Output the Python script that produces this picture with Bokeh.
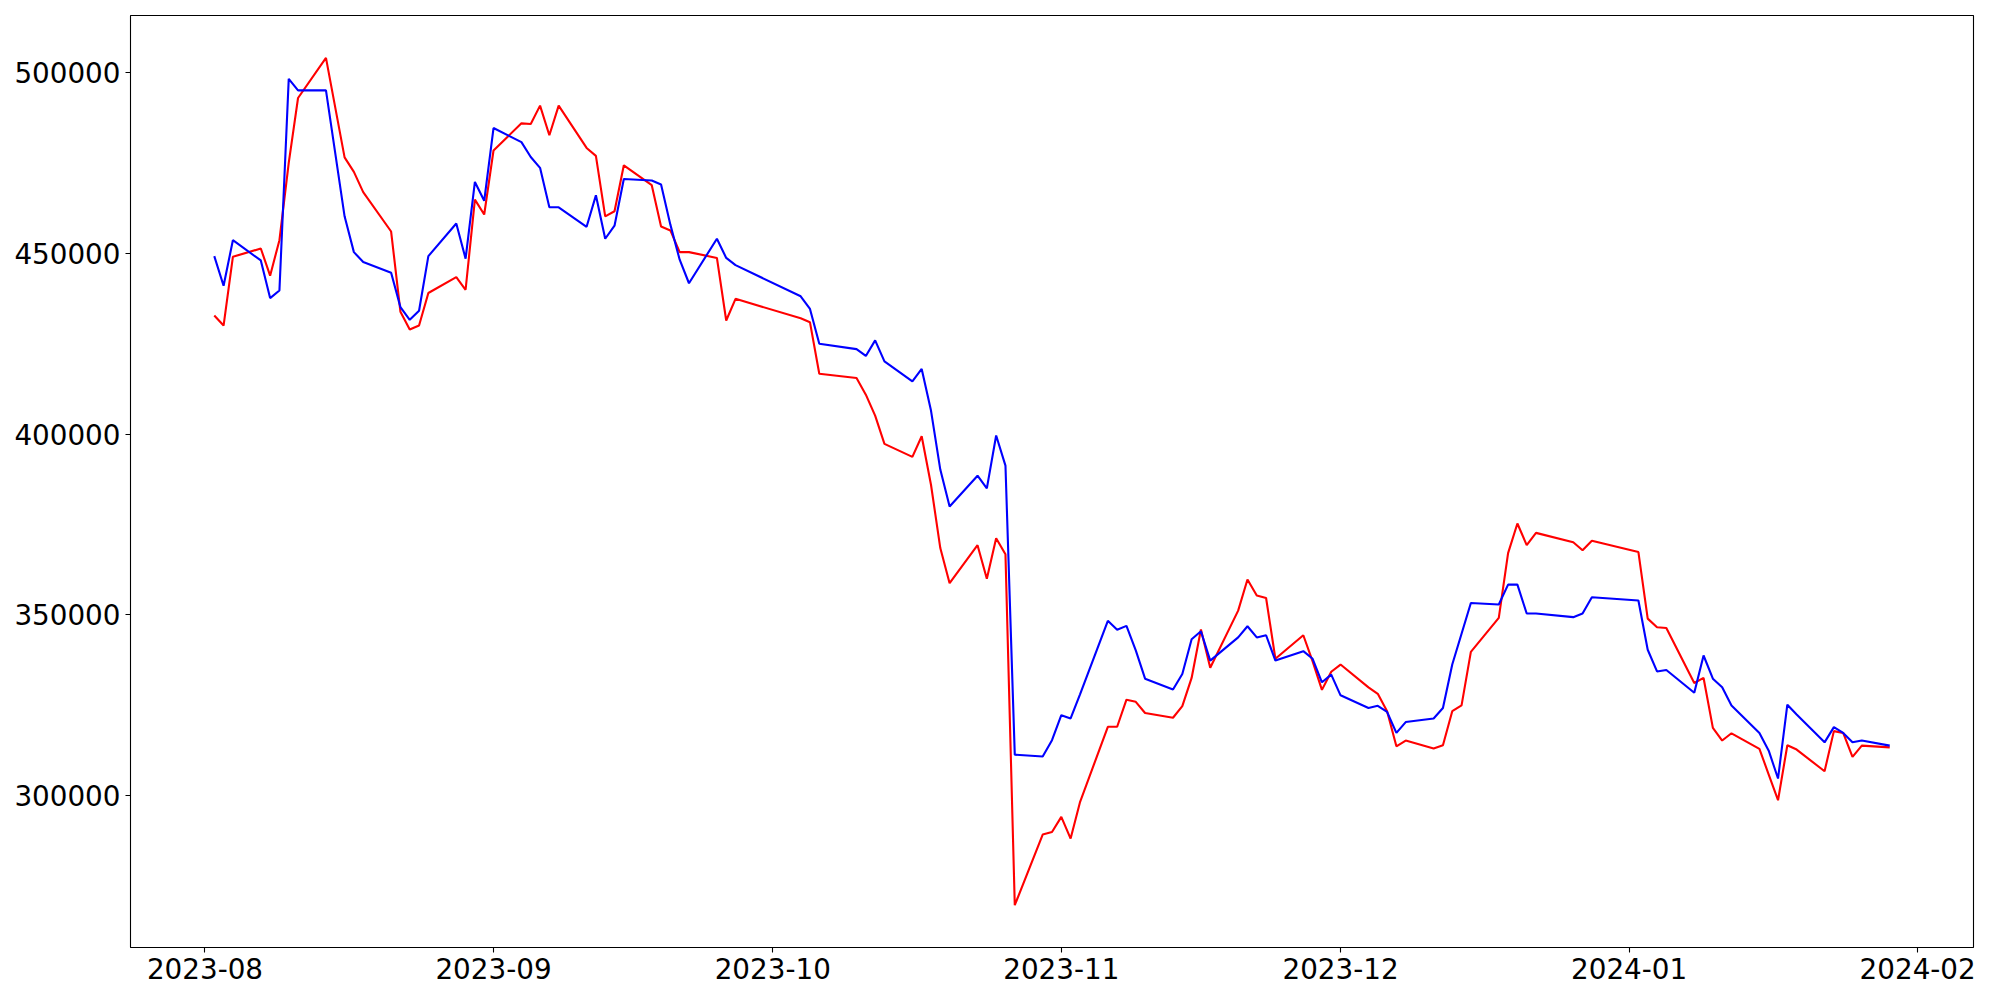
import pandas as pd
from bokeh.plotting import figure
from bokeh.models import Range1d, FixedTicker, DatetimeTickFormatter, NumeralTickFormatter
from bokeh.embed import file_html
from bokeh.resources import INLINE

dates = [
    "2023-08-02", "2023-08-03", "2023-08-04", "2023-08-07", "2023-08-08", "2023-08-09", "2023-08-10",
    "2023-08-11", "2023-08-14", "2023-08-16", "2023-08-17", "2023-08-18", "2023-08-21", "2023-08-22",
    "2023-08-23", "2023-08-24", "2023-08-25", "2023-08-28", "2023-08-29", "2023-08-30", "2023-08-31",
    "2023-09-01", "2023-09-04", "2023-09-05", "2023-09-06", "2023-09-07", "2023-09-08", "2023-09-11",
    "2023-09-12", "2023-09-13", "2023-09-14", "2023-09-15", "2023-09-18", "2023-09-19", "2023-09-20",
    "2023-09-21", "2023-09-22", "2023-09-25", "2023-09-26", "2023-09-27",
    "2023-10-04", "2023-10-05", "2023-10-06", "2023-10-10", "2023-10-11", "2023-10-12", "2023-10-13",
    "2023-10-16", "2023-10-17", "2023-10-18", "2023-10-19", "2023-10-20", "2023-10-23", "2023-10-24",
    "2023-10-25", "2023-10-26", "2023-10-27", "2023-10-30", "2023-10-31",
    "2023-11-01", "2023-11-02", "2023-11-03", "2023-11-06", "2023-11-07", "2023-11-08", "2023-11-09",
    "2023-11-10", "2023-11-13", "2023-11-14", "2023-11-15", "2023-11-16", "2023-11-17", "2023-11-20",
    "2023-11-21", "2023-11-22", "2023-11-23", "2023-11-24", "2023-11-27", "2023-11-28", "2023-11-29",
    "2023-11-30",
    "2023-12-01", "2023-12-04", "2023-12-05", "2023-12-06", "2023-12-07", "2023-12-08", "2023-12-11",
    "2023-12-12", "2023-12-13", "2023-12-14", "2023-12-15", "2023-12-18", "2023-12-19", "2023-12-20",
    "2023-12-21", "2023-12-22", "2023-12-26", "2023-12-27", "2023-12-28",
    "2024-01-02", "2024-01-03", "2024-01-04", "2024-01-05", "2024-01-08", "2024-01-09", "2024-01-10",
    "2024-01-11", "2024-01-12", "2024-01-15", "2024-01-16", "2024-01-17", "2024-01-18", "2024-01-19",
    "2024-01-22", "2024-01-23", "2024-01-24", "2024-01-25", "2024-01-26", "2024-01-29",
]

series_red = [
    432800, 430000, 449000, 451300, 443800, 453600, 475000, 492900, 504000, 476500, 472500, 466900,
    456000, 433800, 428900, 430000, 439000, 443400, 439900, 464800, 460700,
    478400, 485900, 485700, 490800, 482600, 490800, 479100, 476900, 460200, 461600, 474300, 468800,
    457400, 456300, 450300, 450300, 448700, 431400, 437400,
    432000, 430900, 416700, 415500, 410900, 405100, 397300, 393700, 399400, 386000, 368500, 358800,
    369300, 360000, 371200, 366800, 269800, 289300, 290000,
    294200, 288200, 298200, 319100, 319100, 326600, 326000, 322900, 321600, 324800, 332600, 346000,
    335400, 351200, 359800, 355400, 354700, 337900, 344400, 337200, 329300, 334300,
    336300, 330000, 328200, 323400, 313700, 315300, 313100, 314000, 323400, 325000, 339800, 349200,
    367100, 375300, 369300, 372700, 370100, 367900, 370500,
    367400, 349000, 346600, 346400, 331200, 332600, 318800, 315300, 317300, 313000, 305900, 298800,
    314000, 312800, 306800, 317900, 317400, 310800, 313900, 313400,
]

series_blue = [
    449200, 441000, 453600, 448000, 437600, 439700, 498200, 495000, 495000, 460200, 450300, 447600,
    444600, 435100, 431600, 434100, 449200, 458200, 448500, 469700, 464500,
    484600, 480700, 476600, 473600, 462700, 462700, 457300, 466000, 454000, 457600, 470500, 470100,
    469000, 457900, 448200, 441700, 454000, 448700, 446700,
    438100, 434600, 425000, 423500, 421600, 425900, 420100, 414600, 418000, 406500, 390200, 380000,
    388500, 385000, 399600, 391300, 311400, 310900, 315400,
    322300, 321400, 328000, 348400, 345900, 347000, 340200, 332400, 329400, 333700, 343300, 345500,
    337400, 343800, 346900, 343800, 344400, 337400, 340000, 337900, 331400, 333500,
    327800, 324300, 324900, 323200, 317400, 320400, 321400, 324300, 336300, 344800, 353300, 352900,
    358400, 358400, 350400, 350400, 349400, 350400, 354900,
    354000, 340400, 334400, 334800, 328500, 338800, 332400, 330000, 325000, 317400, 312500, 304800,
    325200, 322500, 314800, 319000, 317400, 314800, 315300, 313900,
]

x_tick_labels = ["2023-08-01", "2023-09-01", "2023-10-01", "2023-11-01", "2023-12-01", "2024-01-01", "2024-02-01"]
y_ticks = [300000, 350000, 400000, 450000, 500000]


def to_ms(s):
    return pd.Timestamp(s).timestamp() * 1000.0


x = [to_ms(d) for d in dates]
x_ticks = [to_ms(d) for d in x_tick_labels]

xspan = max(x) - min(x)
all_y = series_red + series_blue
yspan = max(all_y) - min(all_y)

p = figure(
    frame_width=1843, frame_height=932,
    min_border_left=130, min_border_right=19, min_border_top=15, min_border_bottom=45,
    x_axis_type="datetime",
    x_range=Range1d(min(x) - 0.05 * xspan, max(x) + 0.05 * xspan),
    y_range=Range1d(min(all_y) - 0.05 * yspan, max(all_y) + 0.05 * yspan),
    output_backend="svg", toolbar_location=None,
)

p.line(x, series_red, line_color="#ff0000", line_width=2.1)
p.line(x, series_blue, line_color="#0000ff", line_width=2.1)

p.grid.visible = False
p.outline_line_color = "black"
p.outline_line_width = 1.1
p.background_fill_color = "white"
p.border_fill_color = "white"

p.xaxis.ticker = FixedTicker(ticks=x_ticks)
p.xaxis.formatter = DatetimeTickFormatter(months="%Y-%m", days="%Y-%m", years="%Y-%m")
p.yaxis.ticker = FixedTicker(ticks=y_ticks)
p.yaxis.formatter = NumeralTickFormatter(format="0")

for ax in (p.xaxis[0], p.yaxis[0]):
    ax.axis_line_color = None
    ax.major_tick_line_color = "black"
    ax.major_tick_line_width = 1.1
    ax.major_tick_out = 5
    ax.major_tick_in = 0
    ax.minor_tick_line_color = None
    ax.major_label_text_font = "DejaVu Sans"
    ax.major_label_text_font_size = "27.8px"
    ax.major_label_text_color = "black"
    ax.major_label_standoff = 5

open("out.html", "w").write(file_html(p, INLINE))
